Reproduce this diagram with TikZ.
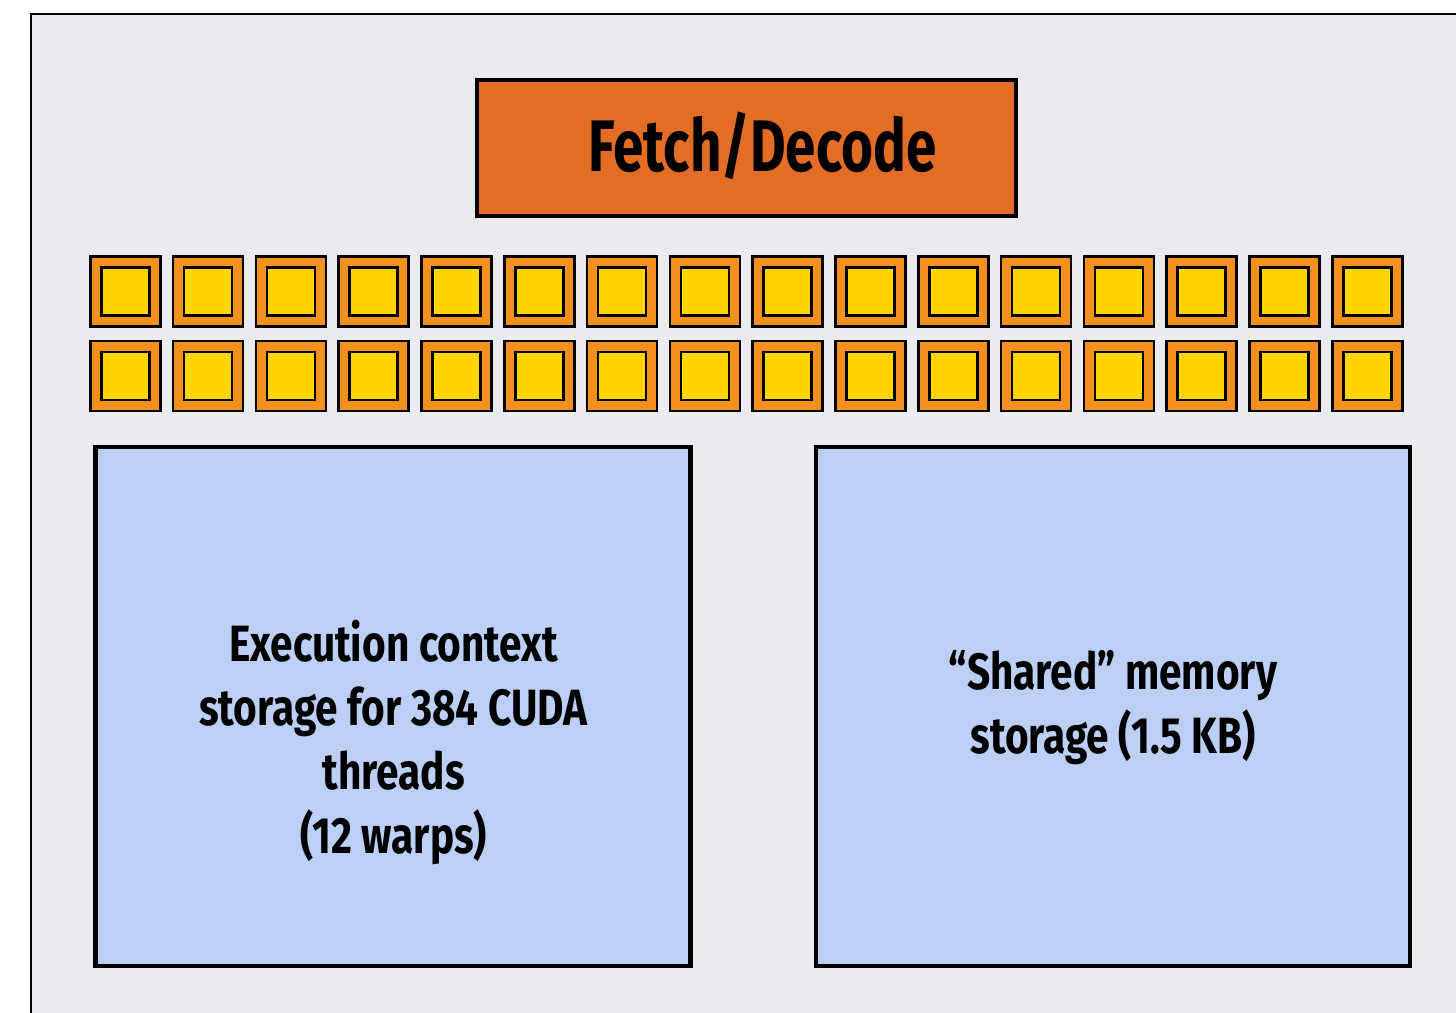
\documentclass[tikz,border=0pt]{standalone}
\usepackage{fontspec}
\newfontfamily\lblfont[FakeStretch=0.75]{Fira Sans}
\newfontfamily\boxfont[FakeStretch=0.795]{Fira Sans}
\definecolor{panel}{HTML}{EAEBEF}
\definecolor{fetchc}{HTML}{E36D25}
\definecolor{sqorange}{HTML}{F4901E}
\definecolor{sqyellow}{HTML}{FFD400}
\definecolor{memblue}{HTML}{BCD0F5}
\tikzset{
  fetchbox/.style={draw=black, line width=4pt, fill=fetchc, rectangle, inner sep=0pt},
  coreout/.style={draw=black, line width=2.6pt, fill=sqorange, rectangle, inner sep=0pt, minimum width=70pt, minimum height=70pt},
  corein/.style={draw=black, line width=2.6pt, fill=sqyellow, rectangle, inner sep=0pt, minimum width=48pt, minimum height=48pt},
  membox/.style={draw=black, line width=4.5pt, fill=memblue, rectangle, inner sep=0pt, minimum width=595pt, minimum height=519pt},
  bigtext/.style={font=\lblfont\bfseries\fontsize{73}{80}\selectfont, inner sep=0pt},
  boxtext/.style={font=\boxfont\bfseries\fontsize{51}{64}\selectfont, align=center, inner sep=0pt}
}
\begin{document}
\begin{tikzpicture}[x=1pt,y=-1pt]
\useasboundingbox (0,0) rectangle (1456,1012);
\clip (0,0) rectangle (1456,1012);
\fill[white] (0,0) rectangle (1456,1012);
\draw[line width=2.2pt, fill=panel] (31,14) rectangle (1490,1050);
\node[fetchbox, minimum width=539pt, minimum height=136pt] (fetch) at (746.5,148) {};
\node[bigtext, anchor=base] (fetchlbl) at (762.5,171.7) {Fetch/Decode};
\foreach \r/\y in {1/291.3, 2/376} {
  \foreach \i in {0,...,15} {
    \node[coreout] (o-\r-\i) at ({125.3+82.8*\i},\y) {};
    \node[corein] (c-\r-\i) at (o-\r-\i.center) {};
  }
}
\node[membox] (ctx) at (393,706.5) {};
\node[membox, minimum width=594pt] (shm) at (1113,706.5) {};
\node[boxtext, anchor=base] (ctxlbl) at (393.5,853) {Execution context\\storage for 384 CUDA\\threads\\(12 warps)};
\node[boxtext, anchor=base] (shmlbl) at (1113,753) {“Shared” memory\\storage (1.5 KB)};
\end{tikzpicture}
\end{document}
